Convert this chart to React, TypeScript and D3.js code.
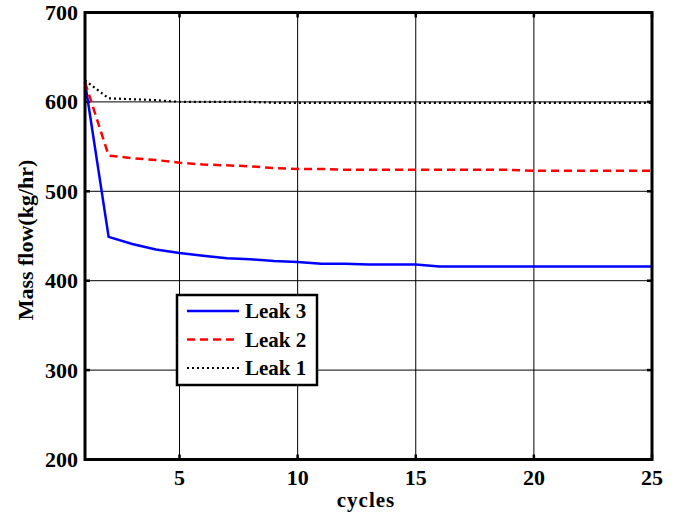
import React from "react";
import * as d3 from "d3";

const cycles = d3.range(1, 26);
const leak3 = [622, 449, 441, 435, 431, 428, 425, 424, 422, 421, 419, 419, 418, 418, 418, 416, 416, 416, 416, 416, 416, 416, 416, 416, 416];
const leak2 = [622, 540, 537, 535, 532, 530, 529, 528, 526, 525, 525, 524, 524, 524, 524, 524, 524, 524, 524, 523, 523, 523, 523, 523, 523];
const leak1 = [624, 604, 603, 602, 600, 600, 600, 600, 599, 599, 599, 599, 599, 599, 599, 599, 599, 599, 599, 599, 599, 599, 599, 599, 599];
const xTicks = [5, 10, 15, 20, 25];
const yTicks = [200, 300, 400, 500, 600, 700];
const seriesNames = ["Leak 3", "Leak 2", "Leak 1"];

const W = 675, H = 517;
const L = 85, R = 652, T = 12.5, B = 459.5;

export default function App() {
  const x = d3.scaleLinear().domain([1, 25]).range([L, R]);
  const y = d3.scaleLinear().domain([200, 700]).range([B, T]);
  const line = (vals: number[]) =>
    d3.line<number>().x((_, i) => x(cycles[i])).y((v) => y(v))(vals) as string;
  const series = [
    { name: seriesNames[0], vals: leak3, color: "#0000ff", dash: "", w: 2.5 },
    { name: seriesNames[1], vals: leak2, color: "#ff0000", dash: "8,5", w: 2.5 },
    { name: seriesNames[2], vals: leak1, color: "#000000", dash: "2,3", w: 2.2 },
  ];
  const font = "'Liberation Serif', 'Times New Roman', serif";
  return (
    <svg width={W} height={H} style={{ position: "absolute", left: 0, top: 0, background: "#fff" }} fontFamily={font} fontWeight="bold">
      <rect x={0} y={0} width={W} height={H} fill="#fff" />
      {xTicks.map((t) => (
        <line key={"gx" + t} x1={x(t)} x2={x(t)} y1={T} y2={B} stroke="#000" strokeWidth={1} />
      ))}
      {yTicks.map((t) => (
        <line key={"gy" + t} x1={L} x2={R} y1={y(t)} y2={y(t)} stroke="#000" strokeWidth={1} />
      ))}
      {xTicks.map((t) => (
        <g key={"tx" + t}>
          <line x1={x(t)} x2={x(t)} y1={B} y2={B - 5} stroke="#000" strokeWidth={2.5} />
          <line x1={x(t)} x2={x(t)} y1={T} y2={T + 5} stroke="#000" strokeWidth={2.5} />
          <text x={x(t)} y={485} fontSize={22} textAnchor="middle">{t}</text>
        </g>
      ))}
      {yTicks.map((t) => (
        <g key={"ty" + t}>
          <line x1={L} x2={L + 5} y1={y(t)} y2={y(t)} stroke="#000" strokeWidth={2.5} />
          <line x1={R} x2={R - 5} y1={y(t)} y2={y(t)} stroke="#000" strokeWidth={2.5} />
          <text x={78} y={y(t) + 7.5} fontSize={22} textAnchor="end">{t}</text>
        </g>
      ))}
      {series.map((s) => (
        <path key={s.name} d={line(s.vals)} fill="none" stroke={s.color} strokeWidth={s.w} strokeDasharray={s.dash || undefined} />
      ))}
      <rect x={L} y={T} width={R - L} height={B - T} fill="none" stroke="#000" strokeWidth={3} />
      <g>
        <rect x={177} y={295} width={140} height={90} fill="#fff" stroke="#000" strokeWidth={2.5} />
        {series.map((s, i) => (
          <g key={"lg" + s.name}>
            <line x1={187} x2={239} y1={311 + i * 28.5} y2={311 + i * 28.5} stroke={s.color} strokeWidth={s.w} strokeDasharray={s.dash || undefined} />
            <text x={245} y={318 + i * 28.5} fontSize={21}>{s.name}</text>
          </g>
        ))}
      </g>
      <text x={366} y={507} fontSize={21} letterSpacing={1} textAnchor="middle">cycles</text>
      <text transform={`translate(33, 240) rotate(-90)`} fontSize={22} textAnchor="middle">Mass flow(kg/hr)</text>
    </svg>
  );
}
